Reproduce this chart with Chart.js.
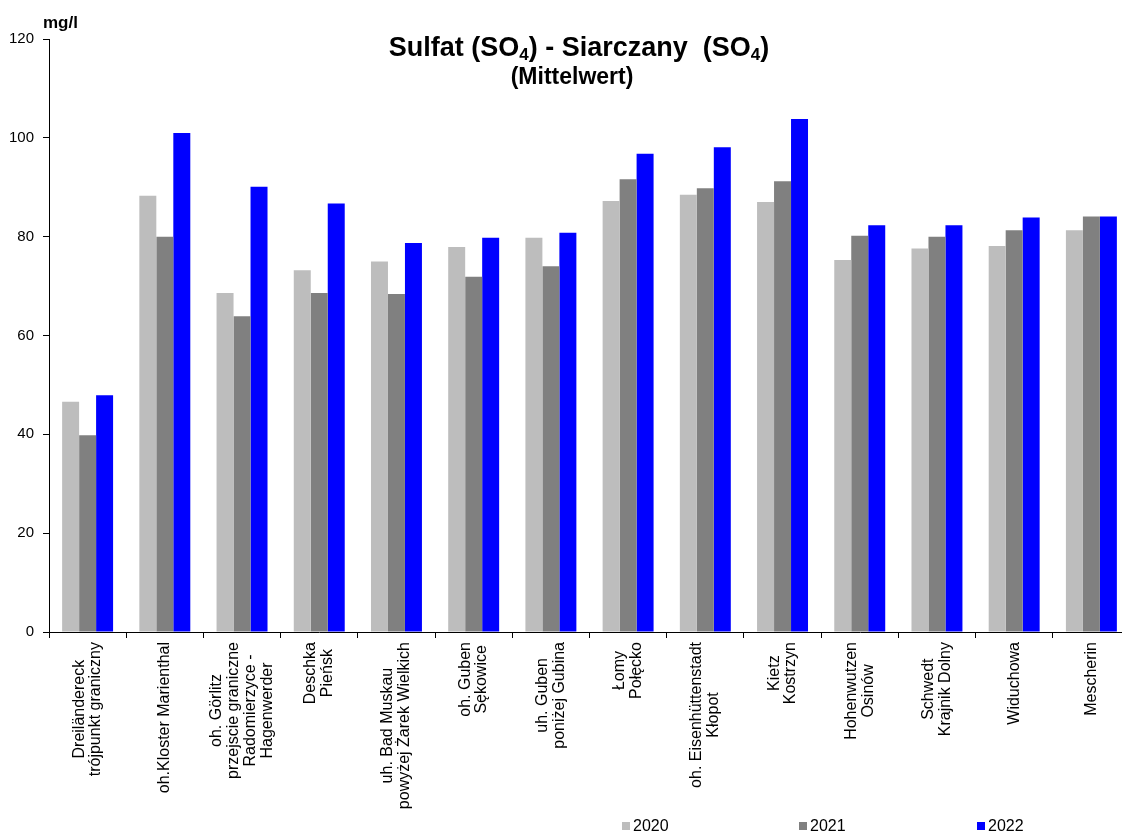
<!DOCTYPE html>
<html>
<head>
<meta charset="utf-8">
<script src="https://cdn.jsdelivr.net/npm/chart.js@4/dist/chart.umd.min.js"></script>
<style>
  html, body { margin: 0; padding: 0; background: #fff; overflow: hidden; }
  #wrap { position: relative; width: 1131px; height: 838px; }
</style>
</head>
<body>
<div id="wrap"><canvas id="chart"></canvas></div>
<script>
// Sulfat (SO4) - Mittelwert je Messstelle, 2020-2022

const stations = [
  ['Dreiländereck', 'trójpunkt graniczny'],
  'oh.Kloster Marienthal',
  ['oh. Görlitz', 'przejscie graniczne', 'Radomierzyce -', 'Hagenwerder'],
  ['Deschka', 'Pieńsk'],
  ['uh. Bad Muskau', 'powyżej Żarek Wielkich'],
  ['oh. Guben', 'Sękowice'],
  ['uh. Guben', 'poniżej Gubina'],
  ['Łomy', 'Połęcko'],
  ['oh. Eisenhüttenstadt', 'Kłopot'],
  ['Kietz', 'Kostrzyn'],
  ['Hohenwutzen', 'Osinów'],
  ['Schwedt', 'Krajnik Dolny'],
  'Widuchowa',
  'Mescherin'
];

const years = ['2020', '2021', '2022'];

const values2020 = [46.6, 88.3, 68.6, 73.2, 75.0, 77.9, 79.8, 87.2, 88.5, 87.0, 75.3, 77.6, 78.1, 81.3];
const values2021 = [39.8, 80.0, 63.9, 68.6, 68.4, 71.9, 74.0, 91.6, 89.8, 91.2, 80.2, 80.0, 81.3, 84.1];
const values2022 = [47.9, 101.0, 90.1, 86.7, 78.7, 79.8, 80.8, 96.8, 98.1, 103.8, 82.3, 82.3, 83.9, 84.1];

const yTicks = [0, 20, 40, 60, 80, 100, 120];

const colors = ['#BDBDBD', '#808080', '#0000FF'];
const FONT = "'Liberation Sans', Arial, sans-serif";

// mehrzeilige, gedrehte Beschriftungen wie im Original mittig ausrichten
const centerLabels = {
  id: 'centerLabels',
  beforeDraw(chart) {
    const scale = chart.scales.x;
    const ctx = chart.ctx;
    scale.getLabelItems().forEach(item => {
      if (item._centered) return;
      const lines = Array.isArray(item.label) ? item.label : [item.label];
      ctx.save();
      ctx.font = item.font.string;
      const maxW = Math.max(...lines.map(l => ctx.measureText(l).width));
      ctx.restore();
      const [tx, ty] = item.options.translation;
      item.options.textAlign = 'center';
      item.options.translation = [tx - (lines.length - 1) * item.font.lineHeight / 2, ty + maxW / 2];
      item._centered = true;
    });
  }
};

// Titel mit tiefgestellter 4, Einheit oben links und Legende unten
const decorations = {
  id: 'decorations',
  afterDraw(chart) {
    const ctx = chart.ctx;
    ctx.save();
    ctx.fillStyle = '#000';
    ctx.textBaseline = 'alphabetic';
    ctx.textAlign = 'left';

    // Haupttitel
    const parts = [
      ['Sulfat (SO', false], ['4', true], [') - Siarczany  (SO', false], ['4', true], [')', false]
    ];
    const big = 'bold 27px ' + FONT;
    const small = 'bold 17px ' + FONT;
    let total = 0;
    parts.forEach(([t, sub]) => { ctx.font = sub ? small : big; total += ctx.measureText(t).width; });
    let x = 579 - total / 2;
    parts.forEach(([t, sub]) => {
      ctx.font = sub ? small : big;
      ctx.fillText(t, x, sub ? 60 : 56);
      x += ctx.measureText(t).width;
    });

    ctx.textAlign = 'center';
    ctx.font = 'bold 23px ' + FONT;
    ctx.fillText('(Mittelwert)', 572, 84);

    ctx.textAlign = 'left';
    ctx.font = 'bold 17px ' + FONT;
    ctx.fillText('mg/l', 43, 28);

    // Legende
    const legendX = [622, 799, 977];
    ctx.font = '16px ' + FONT;
    ctx.textBaseline = 'middle';
    chart.data.datasets.forEach((ds, i) => {
      ctx.fillStyle = ds.backgroundColor;
      ctx.fillRect(legendX[i], 822, 8, 8);
      ctx.fillStyle = '#000';
      ctx.fillText(ds.label, legendX[i] + 11, 827);
    });
    ctx.restore();
  }
};

new Chart(document.getElementById('chart'), {
  type: 'bar',
  data: {
    labels: stations,
    datasets: [
      { label: years[0], data: values2020, backgroundColor: colors[0] },
      { label: years[1], data: values2021, backgroundColor: colors[1] },
      { label: years[2], data: values2022, backgroundColor: colors[2] }
    ]
  },
  options: {
    responsive: true,
    maintainAspectRatio: false,
    animation: false,
    layout: { padding: { top: 39, right: 1, bottom: 0, left: 0 } },
    datasets: {
      bar: { categoryPercentage: 0.66, barPercentage: 1.0 }
    },
    plugins: {
      legend: { display: false },
      title: { display: false },
      tooltip: { enabled: false }
    },
    scales: {
      x: {
        afterFit(scale) { scale.height = 206; },
        border: { color: '#000', width: 1 },
        grid: {
          offset: true,
          drawOnChartArea: false,
          drawTicks: true,
          tickLength: 6,
          color: '#000'
        },
        ticks: {
          autoSkip: false,
          minRotation: 90,
          maxRotation: 90,
          padding: 4,
          color: '#000',
          font: { family: FONT, size: 16, lineHeight: 1.05 }
        }
      },
      y: {
        min: 0,
        max: 120,
        afterFit(scale) { scale.width = 49; },
        afterBuildTicks(scale) { scale.ticks = yTicks.map(v => ({ value: v })); },
        border: { color: '#000', width: 1 },
        grid: {
          drawOnChartArea: false,
          drawTicks: true,
          tickLength: 6,
          color: '#000'
        },
        ticks: {
          padding: 9,
          color: '#000',
          font: { family: FONT, size: 15 }
        }
      }
    }
  },
  plugins: [centerLabels, decorations]
});
</script>
</body>
</html>
